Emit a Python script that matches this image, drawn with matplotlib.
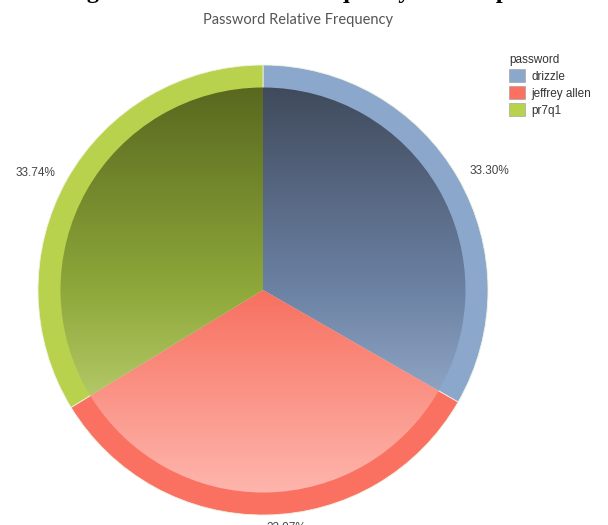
import numpy as np
import matplotlib
matplotlib.use("Agg")
import matplotlib.pyplot as plt
from matplotlib.colors import LinearSegmentedColormap
from matplotlib.patches import Patch

# data
passwords = ["drizzle", "jeffrey allen", "pr7q1"]
rel_freq = [33.30, 32.97, 33.74]
pct_labels = ["33.30%", "32.97%", "33.74%"]

ring_colors = ["#8ba8cc", "#fb7161", "#b8d24e"]
grad_colors = [
    ["#3b4454", "#6c82a4", "#b8cde8"],
    ["#d85848", "#f7705f", "#ffbdb5"],
    ["#53611c", "#8ea83a", "#dceb98"],
]

W, H = 608, 525
fig = plt.figure(figsize=(W / 100, H / 100), dpi=100)
cx, cy, r = 263, 290, 225
ax = fig.add_axes([(cx - r) / W, (H - cy - r) / H, 2 * r / W, 2 * r / H])

# outer ring (solid) + percent labels
wedges, texts = ax.pie(rel_freq, labels=pct_labels, colors=ring_colors,
                       startangle=90, counterclock=False, radius=1.0,
                       labeldistance=1.06,
                       wedgeprops=dict(edgecolor="#eef2e0", linewidth=0.6),
                       textprops=dict(fontsize=8.5, color="#444444",
                                      family="Liberation Sans"))

# inner wedges with a vertical gradient
inner, _ = ax.pie(rel_freq, startangle=90, counterclock=False, radius=0.9,
                  wedgeprops=dict(facecolor="none", edgecolor="none"))
grad = np.linspace(0, 1, 256).reshape(-1, 1)
for w, cols in zip(inner, grad_colors):
    cmap = LinearSegmentedColormap.from_list("g", cols)
    im = ax.imshow(grad, cmap=cmap, extent=[-1, 1, -1, 1], origin="upper",
                   aspect="auto", interpolation="bilinear", zorder=2)
    im.set_clip_path(w)

ax.set_xlim(-1, 1)
ax.set_ylim(-1, 1)
ax.set_aspect("auto")
ax.axis("off")

fig.text(298 / W, 1 - 20 / H, "Password Relative Frequency", ha="center",
         va="center", fontsize=10.5, color="#555555", family="Lato")

# cut-off heading from the page above the chart
fig.text(305 / W, 1 + 2 / H, "Pie diagram for the relative frequency of each password",
         ha="center", va="baseline", fontsize=17.5, fontweight="bold",
         family="Liberation Serif", color="black")

handles = [Patch(facecolor=c, edgecolor="#9a9a9a", linewidth=0.4) for c in ring_colors]
leg = fig.legend(handles, passwords, title="password", loc="upper left",
                 bbox_to_anchor=(503 / W, 1 - 48 / H), frameon=False,
                 prop=dict(family="Liberation Sans", size=8.5),
                 handlelength=1.4, handleheight=1.3, labelspacing=0.3,
                 handletextpad=0.5, borderpad=0, alignment="left")
leg.get_title().set_fontsize(8.5)
leg.get_title().set_family("Liberation Sans")
leg.get_title().set_color("#333333")
for t in leg.get_texts():
    t.set_color("#333333")

fig.savefig("out.png", dpi=100)
